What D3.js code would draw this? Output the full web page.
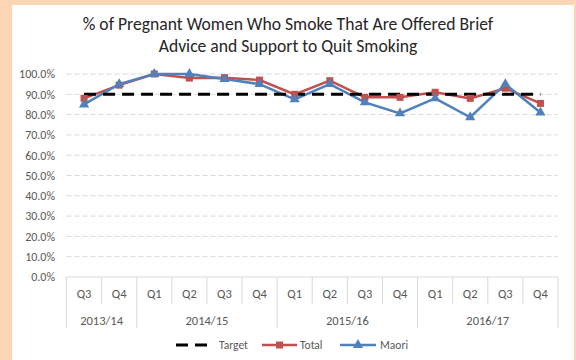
<!DOCTYPE html>
<html><head><meta charset="utf-8">
<script src="https://cdn.jsdelivr.net/npm/d3@7"></script>
<style>
html,body{margin:0;padding:0;background:#fcd5b4;}
svg{display:block;}
</style></head>
<body>
<svg id="chart" width="576" height="360"></svg>
<script>
const quarters = ["Q3","Q4","Q1","Q2","Q3","Q4","Q1","Q2","Q3","Q4","Q1","Q2","Q3","Q4"];
const years = [
  {label:"2013/14", start:0, end:2},
  {label:"2014/15", start:2, end:6},
  {label:"2015/16", start:6, end:10},
  {label:"2016/17", start:10, end:14}
];
const target = [0.90,0.90,0.90,0.90,0.90,0.90,0.90,0.90,0.90,0.90,0.90,0.90,0.90,0.90];
const total  = [0.88,0.945,1.00,0.98,0.982,0.97,0.90,0.967,0.885,0.885,0.91,0.88,0.93,0.855];
const maori  = [0.85,0.95,1.00,1.00,0.975,0.95,0.875,0.95,0.86,0.806,0.88,0.787,0.95,0.81];
const yTicks = [0,0.1,0.2,0.3,0.4,0.5,0.6,0.7,0.8,0.9,1.0];
const titleLines = ["% of Pregnant Women Who Smoke That Are Offered Brief","Advice and Support to Quit Smoking"];

(function(){
const svg = d3.select("#chart");
const font = "Carlito, Calibri, 'Open Sans', sans-serif";
svg.append("rect").attr("x",0).attr("y",0).attr("width",576).attr("height",360).attr("fill","#fcd5b4");
svg.append("rect").attr("x",12).attr("y",5).attr("width",562).attr("height",360).attr("fill","#ffffff");

const pLeft = 66.5, pRight = 558, pTop = 74, pBottom = 277;
const idx = d3.range(quarters.length);
const x = d3.scaleBand().domain(idx).range([pLeft,pRight]).padding(0);
const y = d3.scaleLinear().domain([0,1]).range([pBottom,pTop]);
const cx = i => x(i) + x.bandwidth()/2;

svg.append("g").selectAll("text").data(titleLines).join("text")
  .attr("x",288).attr("y",(d,i)=>30+i*22).attr("text-anchor","middle")
  .attr("font-family",font).attr("font-size",17.6).attr("fill","#262626").text(d=>d);

svg.append("g").selectAll("line").data(yTicks.filter(d=>d>0)).join("line")
  .attr("x1",pLeft).attr("x2",pRight).attr("y1",d=>y(d)).attr("y2",d=>y(d))
  .attr("stroke","#d9d9d9").attr("stroke-width",1).attr("stroke-dasharray","5,3");

const yAxis = d3.axisLeft(y).tickValues(yTicks).tickFormat(d=>d3.format(".1%")(d)).tickSize(0).tickPadding(0);
const gy = svg.append("g").attr("transform",`translate(55,0)`).call(yAxis);
gy.select(".domain").remove();
gy.selectAll("text").attr("font-family",font).attr("font-size",12).attr("fill","#595959");

svg.append("line").attr("x1",pLeft).attr("x2",pRight).attr("y1",pBottom).attr("y2",pBottom)
  .attr("stroke","#d9d9d9").attr("stroke-width",1);

const qBounds = d3.range(quarters.length+1);
const yearBounds = new Set(years.flatMap(d=>[d.start,d.end]));
svg.append("g").selectAll("line").data(qBounds).join("line")
  .attr("x1",i=> i<quarters.length ? x(i) : pRight).attr("x2",i=> i<quarters.length ? x(i) : pRight)
  .attr("y1",pBottom).attr("y2",i=> yearBounds.has(i) ? 328 : 304)
  .attr("stroke","#d9d9d9").attr("stroke-width",1);

const xAxis = d3.axisBottom(x).tickFormat(i=>quarters[i]).tickSize(0).tickPadding(12);
const gx = svg.append("g").attr("transform",`translate(0,${pBottom})`).call(xAxis);
gx.select(".domain").remove();
gx.selectAll("text").attr("font-family",font).attr("font-size",12.5).attr("fill","#595959");

svg.append("g").selectAll("text").data(years).join("text")
  .attr("x",d=>(x(d.start) + (d.end<quarters.length? x(d.end):pRight))/2)
  .attr("y",325).attr("text-anchor","middle")
  .attr("font-family",font).attr("font-size",12.5).attr("fill","#595959").text(d=>d.label);

const line = d3.line().x((d,i)=>cx(i)).y(d=>y(d));
svg.append("path").datum(total).attr("d",line).attr("fill","none").attr("stroke","#c0504d").attr("stroke-width",2.5);
svg.append("path").datum(maori).attr("d",line).attr("fill","none").attr("stroke","#4f81bd").attr("stroke-width",2.5);
svg.append("path").datum(target).attr("d",line).attr("fill","none").attr("stroke","#000").attr("stroke-width",3).attr("stroke-dasharray","12,7");

svg.append("g").selectAll("rect").data(total).join("rect")
  .attr("x",(d,i)=>cx(i)-3.5).attr("y",d=>y(d)-3.5).attr("width",7).attr("height",7).attr("fill","#c0504d");
const tri = d3.symbol().type(d3.symbolTriangle).size(45);
svg.append("g").selectAll("path").data(maori).join("path")
  .attr("d",tri).attr("transform",(d,i)=>`translate(${cx(i)},${y(d)})`).attr("fill","#4f81bd");

const lg = svg.append("g");
lg.append("line").attr("x1",176).attr("x2",214).attr("y1",345).attr("y2",345)
  .attr("stroke","#000").attr("stroke-width",3).attr("stroke-dasharray","12,7");
lg.append("text").attr("x",219).attr("y",349).text("Target");
lg.append("line").attr("x1",262).attr("x2",297).attr("y1",345).attr("y2",345).attr("stroke","#c0504d").attr("stroke-width",2.5);
lg.append("rect").attr("x",276).attr("y",341.5).attr("width",7).attr("height",7).attr("fill","#c0504d");
lg.append("text").attr("x",300).attr("y",349).text("Total");
lg.append("line").attr("x1",340).attr("x2",376).attr("y1",345).attr("y2",345).attr("stroke","#4f81bd").attr("stroke-width",2.5);
lg.append("path").attr("d",tri).attr("transform","translate(358,345)").attr("fill","#4f81bd");
lg.append("text").attr("x",380).attr("y",349).text("Maori");
lg.selectAll("text").attr("font-family",font).attr("font-size",11.5).attr("fill","#595959");
})();
</script>
</body></html>
